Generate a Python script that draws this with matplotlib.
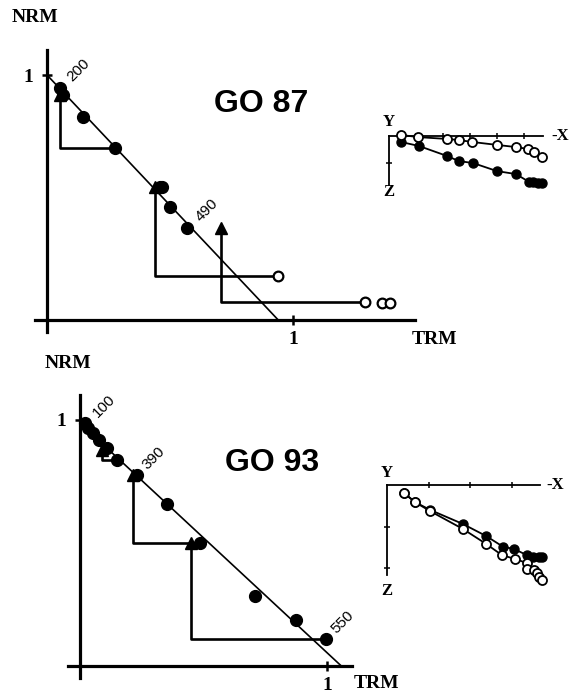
import matplotlib.pyplot as plt

W, H = 569, 695

# GO 87: normalised TRM gained vs NRM remaining
go87_trm = [0.053, 0.065, 0.146, 0.276, 0.459, 0.467, 0.500, 0.569]
go87_nrm = [0.947, 0.918, 0.829, 0.702, 0.543, 0.543, 0.461, 0.376]
go87_trm_hi = [0.939, 1.293, 1.362, 1.394]
go87_nrm_hi = [0.180, 0.073, 0.069, 0.069]
go87_fit_trm = [0.0, 0.94]
go87_fit_nrm = [1.0, 0.0]
# pTRM checks and the step each one is tied back to
go87_chk_trm = [0.053, 0.439, 0.707]
go87_chk_nrm = [0.918, 0.543, 0.376]
go87_chk_from_trm = [0.276, 0.939, 1.293]
go87_chk_from_nrm = [0.702, 0.180, 0.073]
go87_temps = ['200', '490']
go87_temp_idx = [0, 7]

# GO 93
go93_trm = [0.020, 0.032, 0.053, 0.077, 0.109, 0.150, 0.231, 0.352, 0.486, 0.709, 0.874, 0.996]
go93_nrm = [0.988, 0.967, 0.947, 0.919, 0.886, 0.837, 0.776, 0.659, 0.500, 0.285, 0.187, 0.110]
go93_fit_trm = [0.02, 1.058]
go93_fit_nrm = [0.969, 0.0]
go93_chk_trm = [0.090, 0.215, 0.449]
go93_chk_nrm = [0.880, 0.776, 0.500]
go93_chk_from_trm = [0.150, 0.486, 0.996]
go93_chk_from_nrm = [0.837, 0.500, 0.110]
go93_temps = ['100', '390', '550']
go93_temp_idx = [0, 6, 11]

# orthogonal projections (x = -X component, y = Y or Z component, downwards)
z87_x_h = [0.44, 1.07, 2.15, 2.59, 3.07, 4.00, 4.70, 5.15, 5.37, 5.67]
z87_y_h = [-0.04, 0.04, 0.11, 0.15, 0.22, 0.33, 0.41, 0.48, 0.59, 0.78]
z87_x_v = [0.44, 1.11, 2.15, 2.59, 3.11, 4.00, 4.70, 5.19, 5.33, 5.52, 5.67]
z87_z_v = [0.22, 0.37, 0.74, 0.93, 1.00, 1.30, 1.41, 1.70, 1.70, 1.74, 1.74]

z93_x_h = [0.41, 0.67, 1.04, 1.83, 2.39, 2.77, 3.08, 3.37, 3.37, 3.54, 3.61, 3.66, 3.73]
z93_y_h = [0.19, 0.41, 0.63, 1.06, 1.42, 1.69, 1.78, 1.88, 2.02, 2.05, 2.12, 2.22, 2.29]
z93_x_v = [0.41, 0.67, 1.04, 1.83, 2.39, 2.80, 3.06, 3.37, 3.52, 3.66, 3.73]
z93_z_v = [0.19, 0.41, 0.60, 0.94, 1.23, 1.49, 1.54, 1.69, 1.73, 1.73, 1.73]

SERIF = 'Liberation Serif'
SANS = 'Liberation Sans'


def place(fig, ox, oy, ux, uy, xlim, ylim, flip=False):
    # axes placed so data (0, 0) sits at pixel (ox, oy)
    left = ox + xlim[0] * ux
    right = ox + xlim[1] * ux
    if flip:
        top, bottom = oy + ylim[1] * uy, oy + ylim[0] * uy
    else:
        top, bottom = oy - ylim[1] * uy, oy - ylim[0] * uy
    ax = fig.add_axes([left / W, 1 - bottom / H, (right - left) / W, (bottom - top) / H])
    ax.set_xlim(xlim)
    ax.set_ylim(ylim)
    ax.patch.set_alpha(0)
    for s in ['top', 'right']:
        ax.spines[s].set_visible(False)
    ax.spines['left'].set_position(('data', 0))
    ax.spines['bottom'].set_position(('data', 0))
    return ax


def arai(ax, trm, nrm, trm_hi, nrm_hi, fit_x, fit_y, chk_x, chk_y, from_x, from_y,
         temps, idx, offs, name, name_xy, xb, yb, nrm_xy, trm_xy):
    ax.spines['left'].set_bounds(*yb)
    ax.spines['bottom'].set_bounds(*xb)
    for s in ['left', 'bottom']:
        ax.spines[s].set_linewidth(2.3)
    ax.set_xticks([1])
    ax.set_yticks([1])
    ax.set_xticklabels(['1'], fontfamily=SERIF, fontweight='bold', fontsize=14)
    ax.set_yticklabels(['1'], fontfamily=SERIF, fontweight='bold', fontsize=14)
    ax.tick_params(direction='inout', length=7.5, width=1.8, pad=4)
    ax.tick_params(axis='y', pad=6)

    ax.plot(fit_x, fit_y, color='black', lw=1.2, zorder=2)
    for cx, cy, fx, fy in zip(chk_x, chk_y, from_x, from_y):
        ax.plot([fx, cx, cx], [fy, fy, cy], color='black', lw=1.9, zorder=2)
    ax.plot(chk_x, chk_y, '^', color='black', ms=9, zorder=3)
    ax.plot(trm, nrm, 'o', color='black', ms=8.5, zorder=4)
    if trm_hi:
        ax.plot(trm_hi, nrm_hi, 'o', mfc='white', mec='black', mew=1.6, ms=7, zorder=4)
    for t, i, (dx, dy) in zip(temps, idx, offs):
        ax.annotate(t, (trm[i], nrm[i]), xytext=(dx, dy), textcoords='offset points',
                    rotation=45, rotation_mode='anchor', ha='center', va='center',
                    fontfamily=SANS, fontsize=11)
    ax.text(*name_xy, name, fontfamily=SANS, fontweight='bold', fontsize=23,
            ha='center', va='center')
    ax.text(*nrm_xy, 'NRM', fontfamily=SERIF, fontweight='bold', fontsize=14,
            ha='center', va='center', clip_on=False)
    ax.text(*trm_xy, 'TRM', fontfamily=SERIF, fontweight='bold', fontsize=14,
            ha='center', va='center', clip_on=False)


def zij(ax, xh, yh, xv, zv, xb, zb, xt, zt, y_xy, x_xy, z_xy):
    ax.spines['bottom'].set_bounds(*xb)
    ax.spines['left'].set_bounds(*zb)
    for s in ['left', 'bottom']:
        ax.spines[s].set_linewidth(1.3)
    ax.set_xticks(xt)
    ax.set_yticks(zt)
    ax.set_xticklabels([])
    ax.set_yticklabels([])
    ax.tick_params(direction='inout', length=5, width=1.1)
    ax.plot(xv, zv, '-o', color='black', lw=1.3, ms=6.5, zorder=3)
    ax.plot(xh, yh, '-o', color='black', lw=1.3, ms=6.5, mfc='white', mew=1.3, zorder=4)
    kw = dict(fontfamily=SERIF, fontweight='bold', fontsize=12, ha='center', va='center',
              clip_on=False)
    ax.text(*y_xy, 'Y', **kw)
    ax.text(*x_xy, '-X', **kw)
    ax.text(*z_xy, 'Z', **kw)


fig = plt.figure(figsize=(W / 100, H / 100), dpi=100)

ax1 = place(fig, 47, 320, 246, 245, (-0.06, 1.55), (-0.06, 1.12))
arai(ax1, go87_trm, go87_nrm, go87_trm_hi, go87_nrm_hi, go87_fit_trm, go87_fit_nrm,
     go87_chk_trm, go87_chk_nrm, go87_chk_from_trm, go87_chk_from_nrm,
     go87_temps, go87_temp_idx, [(13, 13), (14, 13)],
     'GO 87', (0.870, 0.882), (-0.049, 1.496), (-0.049, 1.10),
     (-0.049, 1.233), (1.577, -0.078))

ax2 = place(fig, 80, 666, 247, 246, (-0.06, 1.15), (-0.06, 1.15))
arai(ax2, go93_trm, go93_nrm, None, None, go93_fit_trm, go93_fit_nrm,
     go93_chk_trm, go93_chk_nrm, go93_chk_from_trm, go93_chk_from_nrm,
     go93_temps, go93_temp_idx, [(14, 12), (12, 12), (12, 12)],
     'GO 93', (0.777, 0.825), (-0.049, 1.10), (-0.049, 1.10),
     (-0.049, 1.228), (1.202, -0.073))

ax3 = place(fig, 389, 136, 27, 27, (-0.5, 6.3), (2.3, -0.9), flip=True)
zij(ax3, z87_x_h, z87_y_h, z87_x_v, z87_z_v, (0, 5.7), (0, 1.81),
    [1, 2, 3, 4, 5], [1], (0, -0.52), (6.33, 0), (0, 2.07))

ax4 = place(fig, 387, 485, 41.5, 41.5, (-0.5, 4.4), (2.7, -0.7), flip=True)
zij(ax4, z93_x_h, z93_y_h, z93_x_v, z93_z_v, (0, 3.69), (0, 2.17),
    [1, 2, 3], [1, 2], (0, -0.29), (4.05, 0), (0, 2.55))

fig.savefig('out.png', dpi=100)
